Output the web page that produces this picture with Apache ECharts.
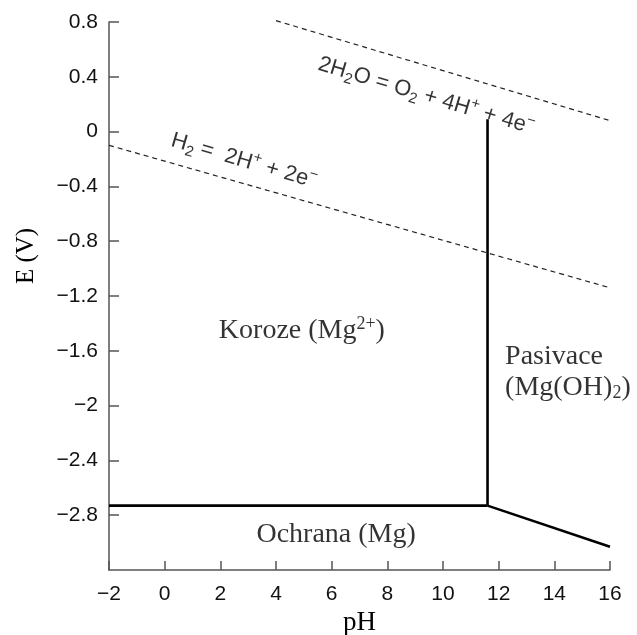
<!DOCTYPE html>
<html>
<head>
<meta charset="utf-8">
<script src="https://cdn.jsdelivr.net/npm/echarts@6/dist/echarts.min.js"></script>
<style>html,body{margin:0;padding:0;background:#fff}#c{width:637px;height:635px}</style>
</head>
<body>
<div id="c"></div>
<script>
// Water stability lines (dashed)
const h2Ph = [-2, 16];
const h2E = [-0.1, -1.14];
const o2Ph = [4, 16];
const o2E = [0.81, 0.08];
// Mg Pourbaix boundaries (solid)
const horizPh = [-2, 11.6];
const horizE = [-2.73, -2.73];
const vertPh = [11.6, 11.6];
const vertE = [-2.73, 0.09];
const slopePh = [11.6, 16];
const slopeE = [-2.73, -3.03];
// Axis ticks
const xTicks = [-2, 0, 2, 4, 6, 8, 10, 12, 14, 16];
const yTicks = [0.8, 0.4, 0, -0.4, -0.8, -1.2, -1.6, -2, -2.4, -2.8];
// Text labels: [pH, E, text]
const eqO2 = [9.4, 0.26, '{n|2H}{sub|2}{n|O = O}{sub|2}{n| + 4H}{sup|+}{n| + 4e}{sup|−}'];
const eqH2 = [2.85, -0.215, '{n|H}{sub|2}{n| =  2H}{sup|+}{n| + 2e}{sup|−}'];
const regKoroze = [4.93, -1.455, '{s|Koroze (Mg}{sp|2+}{s|)}'];
const regPasivace = [12.23, -1.753, '{s|Pasivace}\n{s|(Mg(OH)}{sb|2}{s|)}'];
const regOchrana = [6.16, -2.945, '{s|Ochrana (Mg)}'];

const toPairs = (xs, ys) => xs.map((x, i) => [x, ys[i]]);
const fmt = v => {
  const r = Math.round(v * 10) / 10;
  if (Math.abs(r) < 1e-9) return '0';
  return (r < 0 ? '−' : '') + String(Math.abs(r));
};

const sansRich = {
  n: {fontFamily: 'Liberation Sans', fontSize: 22, color: '#000', lineHeight: 28},
  sub: {fontFamily: 'Liberation Sans', fontSize: 15, color: '#000', lineHeight: 14, verticalAlign: 'bottom'},
  sup: {fontFamily: 'Liberation Sans', fontSize: 15, color: '#000', lineHeight: 14, verticalAlign: 'top'}
};
const serifRich = {
  s: {fontFamily: 'Liberation Serif', fontSize: 28, color: '#000', lineHeight: 31},
  sp: {fontFamily: 'Liberation Serif', fontSize: 18, color: '#000', lineHeight: 18, verticalAlign: 'top'},
  sb: {fontFamily: 'Liberation Serif', fontSize: 18, color: '#000', lineHeight: 18, verticalAlign: 'bottom'}
};

function labelPoint(arr, opts) {
  return {
    value: [arr[0], arr[1]],
    label: Object.assign({show: true, position: 'inside', formatter: arr[2], color: '#000'}, opts)
  };
}

const chart = echarts.init(document.getElementById('c'), null, {renderer: 'canvas'});
const solid = {color: '#000', width: 2.6};
const dashed = {color: '#222', width: 1.2, type: [5, 4]};

chart.setOption({
  animation: false,
  backgroundColor: '#fff',
  grid: {left: 109, right: 27, top: 22, bottom: 65, containLabel: false, outerBoundsMode: 'none'},
  xAxis: {
    type: 'value', min: -2, max: 16, interval: 2,
    name: 'pH', nameLocation: 'middle', nameGap: 39,
    nameTextStyle: {fontFamily: 'Liberation Serif', fontSize: 27, color: '#000'},
    axisLine: {show: true, onZero: false, lineStyle: {color: '#555', width: 1.5}},
    axisTick: {show: true, inside: true, length: 9, lineStyle: {color: '#555', width: 1.5},
      customValues: xTicks},
    axisLabel: {margin: 14, fontFamily: 'Liberation Sans', fontSize: 21, color: '#111', formatter: fmt,
      customValues: xTicks},
    splitLine: {show: false}
  },
  yAxis: {
    type: 'value', min: -3.2, max: 0.8, interval: 0.4,
    name: 'E (V)', nameLocation: 'middle', nameGap: 70, nameRotate: 90,
    nameTextStyle: {fontFamily: 'Liberation Serif', fontSize: 25, color: '#000', padding: [0, 0, 0, 80]},
    axisLine: {show: true, onZero: false, lineStyle: {color: '#555', width: 1.5}},
    axisTick: {show: true, inside: true, length: 10, lineStyle: {color: '#555', width: 1.5},
      customValues: yTicks},
    axisLabel: {margin: 11, fontFamily: 'Liberation Sans', fontSize: 21, color: '#111', formatter: fmt,
      customValues: yTicks},
    splitLine: {show: false}
  },
  series: [
    {type: 'line', data: toPairs(h2Ph, h2E), symbol: 'none', lineStyle: dashed, clip: false},
    {type: 'line', data: toPairs(o2Ph, o2E), symbol: 'none', lineStyle: dashed, clip: false},
    {type: 'line', data: toPairs(horizPh, horizE), symbol: 'none', lineStyle: solid, clip: false},
    {type: 'line', data: toPairs(vertPh, vertE), symbol: 'none', lineStyle: solid, clip: false},
    {type: 'line', data: toPairs(slopePh, slopeE), symbol: 'none', lineStyle: solid, clip: false},
    {
      type: 'scatter', symbolSize: 0, silent: true, clip: false,
      data: [
        labelPoint(eqO2, {rotate: -16.7, rich: sansRich, align: 'center', verticalAlign: 'middle'}),
        labelPoint(eqH2, {rotate: -16.2, rich: sansRich, align: 'center', verticalAlign: 'middle'}),
        labelPoint(regKoroze, {rich: serifRich, align: 'center', verticalAlign: 'middle'}),
        labelPoint(regPasivace, {rich: serifRich, align: 'left', verticalAlign: 'middle'}),
        labelPoint(regOchrana, {rich: serifRich, align: 'center', verticalAlign: 'middle'})
      ]
    }
  ]
});
</script>
</body>
</html>
